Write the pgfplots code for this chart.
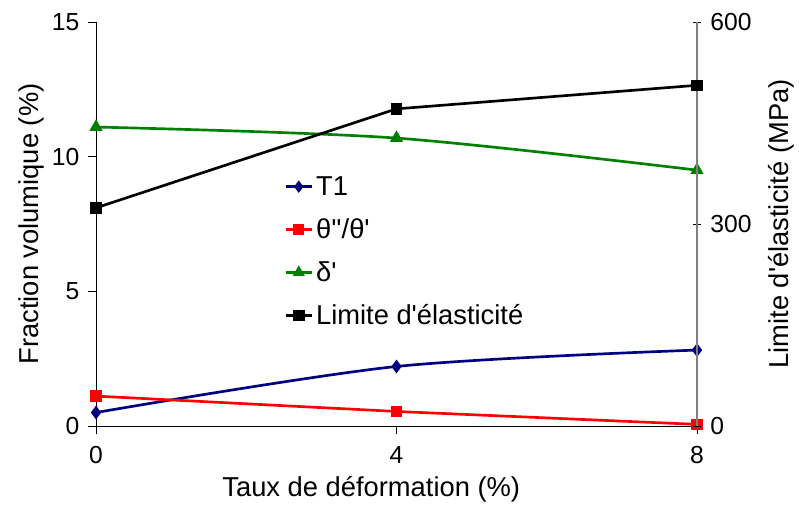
\documentclass[border=0pt]{standalone}
\usepackage{pgfplots}
\pgfplotsset{compat=1.18}
\usepackage{fontspec}
\setmainfont{Liberation Sans}[Ligatures=TeXOff]
\definecolor{navyc}{RGB}{0,0,128}
\definecolor{greenc}{RGB}{0,128,0}
\definecolor{redc}{RGB}{255,0,0}
\begin{document}
\begin{tikzpicture}
\useasboundingbox (-72pt,-60pt) rectangle (527.25pt,319.5pt);
\pgfplotsset{every axis/.append style={
  scale only axis, width=450.75pt, height=303pt,
  at={(0,0)}, anchor=south west,
  xmin=0, xmax=8, xtick={0,4,8},
  /pgf/number format/assume math mode=true,
  tick label style={font=\fontsize{18.5}{22}\selectfont},
  label style={font=\fontsize{20.5}{24}\selectfont},
  tick style={black, line width=0.6pt},
  major tick length=6pt,
  legend image code/.code={\draw[mark repeat=2,mark phase=2,#1] plot coordinates {(0cm,0cm) (0.35cm,0cm) (0.7cm,0cm)};},
}}
\begin{axis}[
  axis x line*=bottom, axis y line*=left,
  ymin=0, ymax=15, ytick={0,5,10,15},
  tick align=outside,
  axis line style={black, line width=0.6pt},
  xlabel={Taux de déformation (\%)},
  ylabel={Fraction volumique (\%)},
  xlabel style={at={(axis description cs:0.458,-0.156)}, anchor=center},
  ylabel style={at={(axis description cs:-0.108,0.5)}, anchor=center},
  xticklabel style={yshift=-6pt},
  yticklabel style={xshift=-3pt},
]
\addplot[navyc, line width=2pt, smooth, tension=0.5, mark=diamond*, mark size=3.5pt] coordinates {(0,0.50) (4,2.21) (8,2.82)};
\addplot[redc, line width=2pt, mark=square*, mark size=3.3pt] coordinates {(0,1.11) (4,0.54) (8,0.06)};
\addplot[greenc, line width=2pt, smooth, tension=0.5, mark=triangle*, mark size=3.8pt] coordinates {(0,11.1) (4,10.69) (8,9.5)};
\end{axis}
\begin{axis}[
  axis x line=none, axis y line*=right,
  ymin=0, ymax=600, ytick={0,300,600},
  tick align=center,
  axis line style={gray, line width=0.8pt},
  ylabel={Limite d'élasticité (MPa)},
  ylabel style={at={(axis description cs:1.141,0.5)}, anchor=center},
  yticklabel style={xshift=3.5pt},
  legend style={draw=none, fill=none, at={(axis description cs:0.306,0.632)}, anchor=north west,
    font=\fontsize{20.5}{24}\selectfont, row sep=12pt},
  legend cell align=left,
]
\addlegendimage{navyc, line width=2pt, mark=diamond*, mark size=3pt}
\addlegendentry{T1}
\addlegendimage{redc, line width=2pt, mark=square*, mark size=3pt}
\addlegendentry{θ''/θ'}
\addlegendimage{greenc, line width=2pt, mark=triangle*, mark size=3.3pt}
\addlegendentry{δ'}
\addplot[black, line width=2pt, mark=square*, mark size=3.3pt] coordinates {(0,324) (4,471) (8,506)};
\addlegendentry{Limite d'élasticité}
\end{axis}
\end{tikzpicture}
\end{document}
